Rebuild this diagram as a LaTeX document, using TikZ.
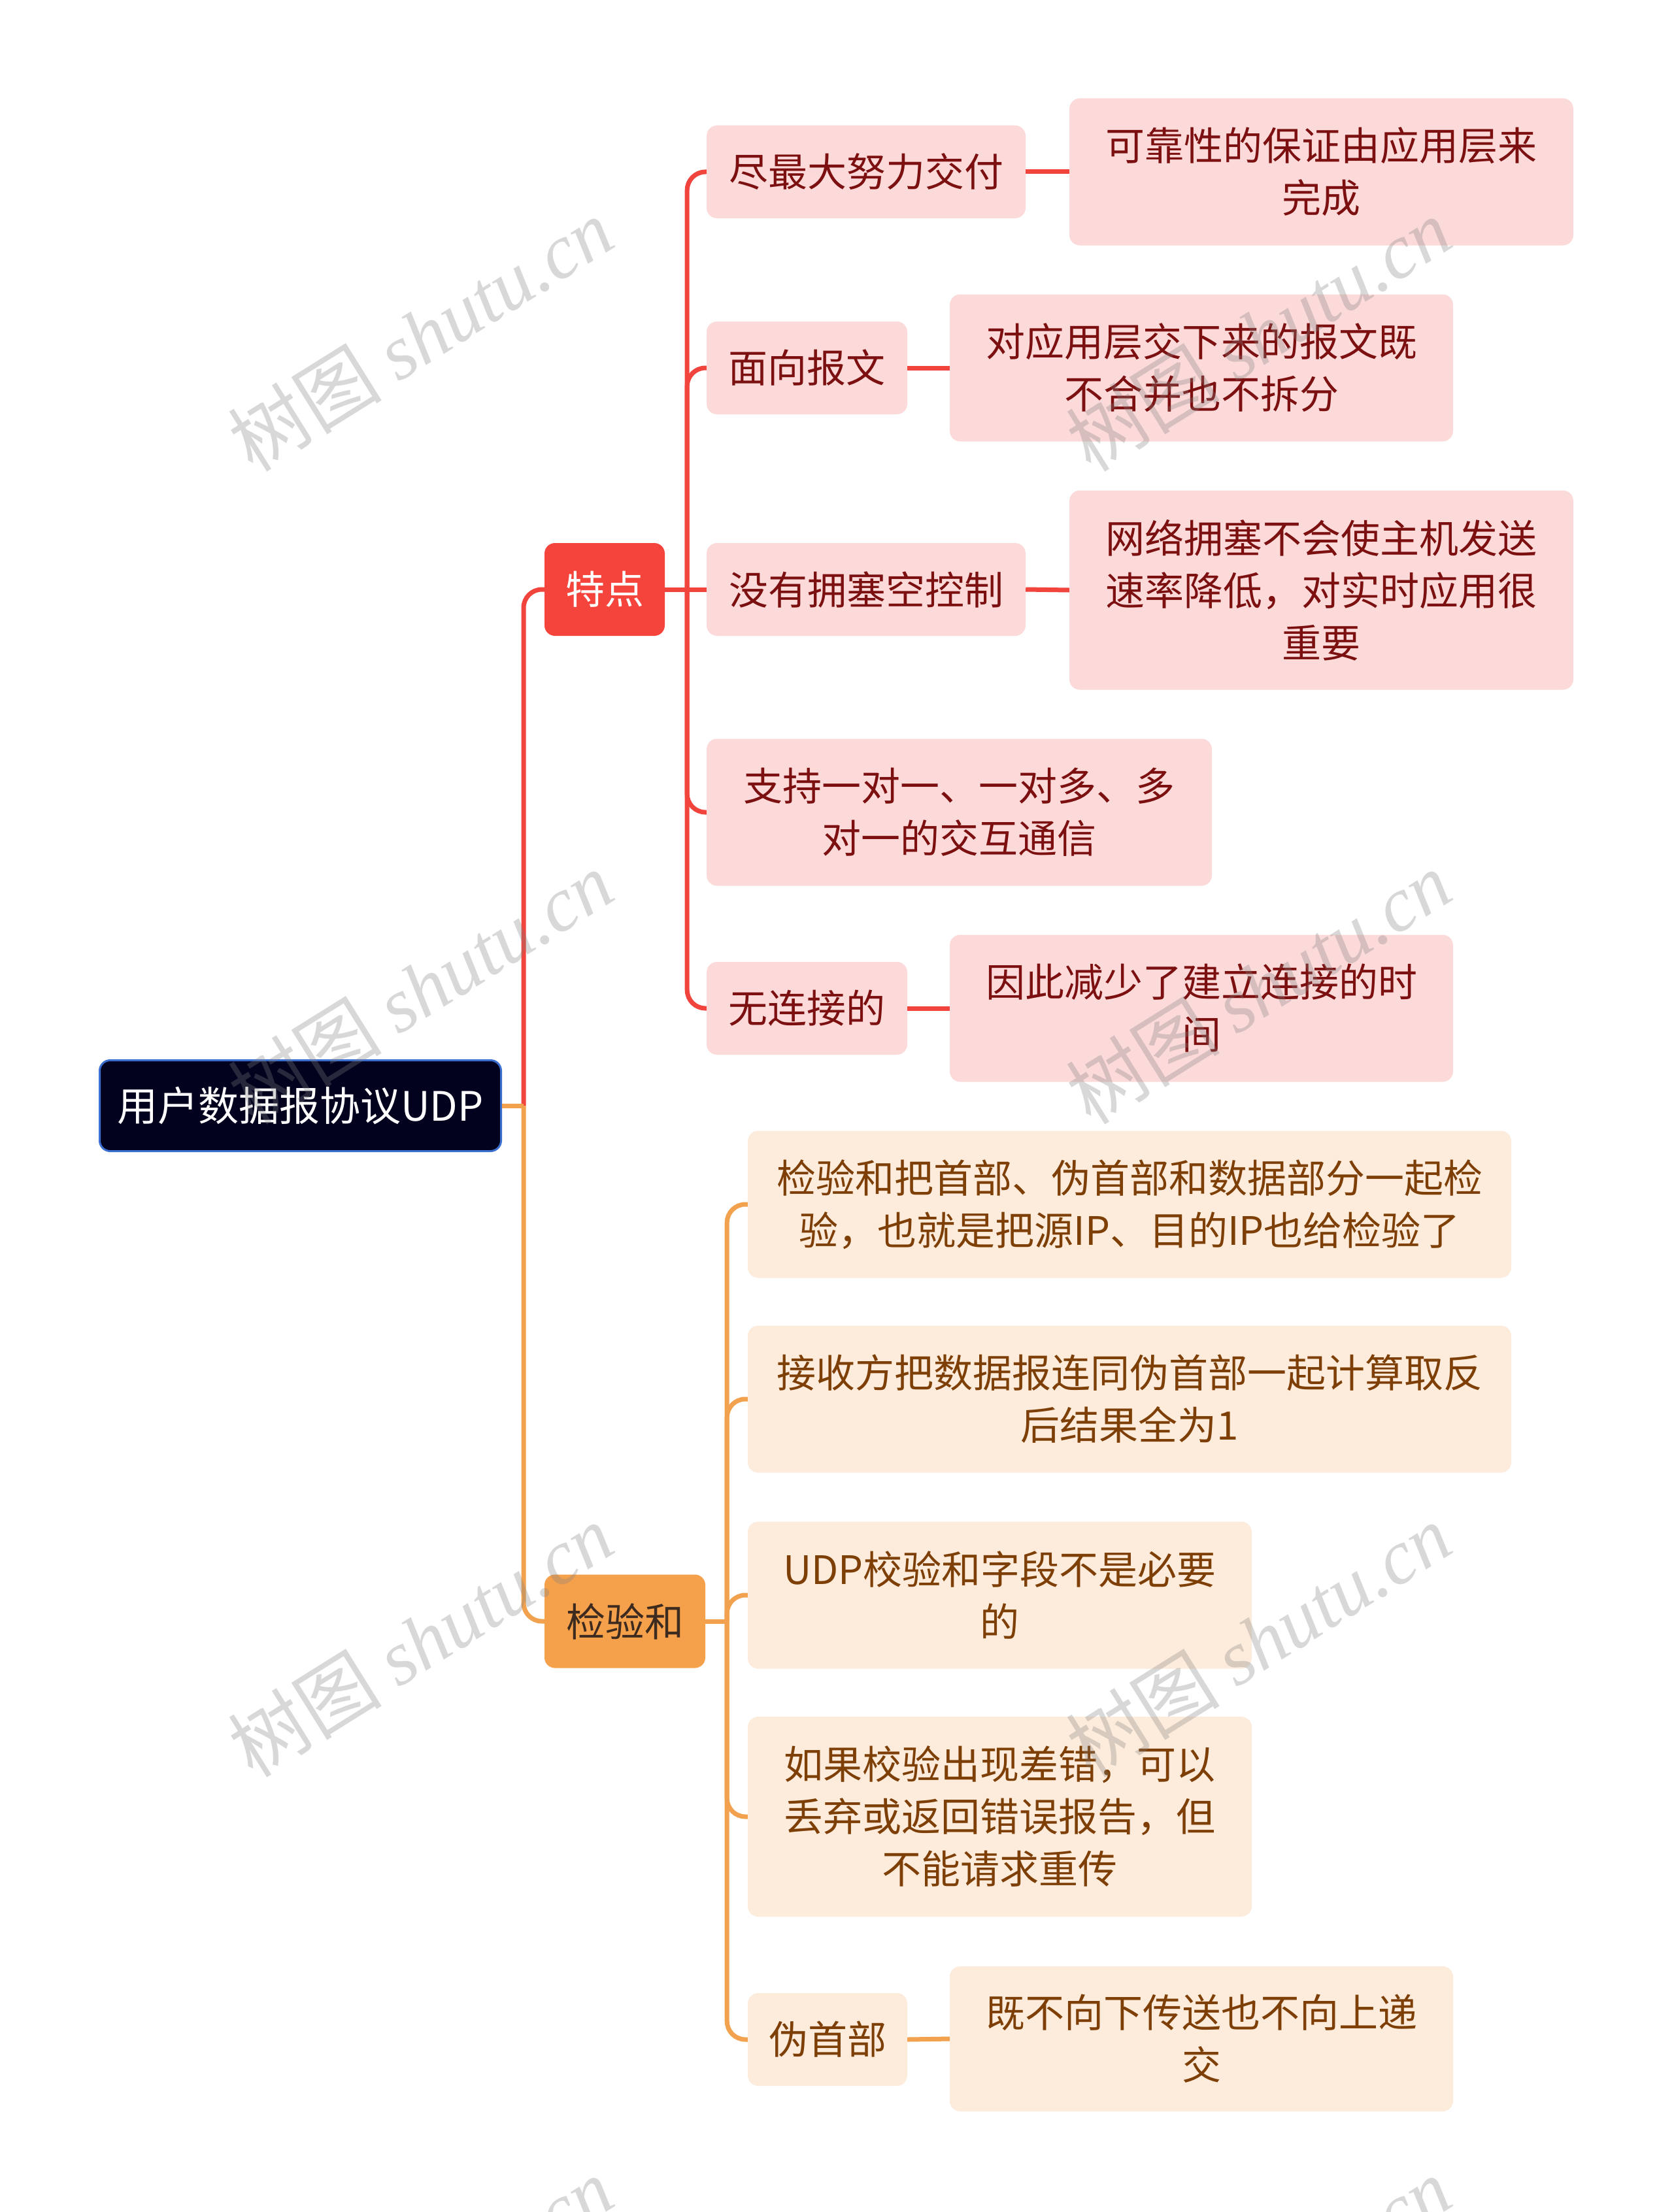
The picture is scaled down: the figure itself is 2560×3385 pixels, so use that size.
\documentclass[tikz,border=0pt]{standalone}
\usepackage{fontspec}
\setmainfont{Noto Sans CJK SC}
\newfontfamily\wmserif{Liberation Serif}
\definecolor{rootfill}{HTML}{02021F}
\definecolor{rootborder}{HTML}{3A6FD0}
\definecolor{redmain}{HTML}{F5443C}
\definecolor{orgmain}{HTML}{F5A04B}
\definecolor{pinkfill}{HTML}{FDDADA}
\definecolor{pinktext}{HTML}{7C1010}
\definecolor{peachfill}{HTML}{FDEBDB}
\definecolor{peachtext}{HTML}{7E3F06}
\definecolor{jyhtext}{HTML}{3D2B1F}
\definecolor{lred}{HTML}{F0443C}
\definecolor{lorg}{HTML}{F2A24E}
\tikzset{
  base/.style={rounded corners=16pt, inner sep=0pt, align=center, font=\fontsize{60}{80}\selectfont},
  rootbox/.style={base, fill=rootfill, draw=rootborder, line width=3pt, text=white, font=\fontsize{62}{80}\selectfont},
  redbox/.style={base, fill=redmain, text=white},
  orgbox/.style={base, fill=orgmain, text=jyhtext},
  pinkbox/.style={base, fill=pinkfill, text=pinktext},
  peachbox/.style={base, fill=peachfill, text=peachtext},
  redline/.style={draw=lred, line width=7pt, rounded corners=28pt},
  orgline/.style={draw=lorg, line width=7pt, rounded corners=28pt},
  wm/.style={text=gray, opacity=0.3, font=\fontsize{118}{124}\selectfont, inner sep=0pt, rotate=32}
}
\begin{document}
\begin{tikzpicture}[x=1pt,y=-1pt]
\useasboundingbox (0,0) rectangle (2560,3385);
\fill[white] (0,0) rectangle (2560,3385);
% nodes
\node[rootbox, minimum width=614pt, minimum height=139pt] (root) at (459.5,1692) {用户数据报协议UDP};
\node[redbox, minimum width=184pt, minimum height=142pt] (td) at (925,902) {特点};
\node[orgbox, minimum width=246pt, minimum height=143pt] (jyh) at (956,2481) {检验和};

\node[pinkbox, minimum width=488pt, minimum height=142pt] (c1) at (1325,263) {尽最大努力交付};
\node[pinkbox, minimum width=771pt, minimum height=225pt] (l1) at (2021.5,263) {可靠性的保证由应用层来\\完成};
\node[pinkbox, minimum width=307pt, minimum height=142pt] (c2) at (1234.5,563) {面向报文};
\node[pinkbox, minimum width=770pt, minimum height=225pt] (l2) at (1838,563) {对应用层交下来的报文既\\不合并也不拆分};
\node[pinkbox, minimum width=488pt, minimum height=142pt] (c3) at (1325,902) {没有拥塞空控制};
\node[pinkbox, minimum width=771pt, minimum height=305pt] (l3) at (2021.5,903) {网络拥塞不会使主机发送\\速率降低，对实时应用很\\重要};
\node[pinkbox, minimum width=773pt, minimum height=225pt] (c4) at (1467.5,1243) {支持一对一、一对多、多\\对一的交互通信};
\node[pinkbox, minimum width=307pt, minimum height=142pt] (c5) at (1234.5,1543) {无连接的};
\node[pinkbox, minimum width=770pt, minimum height=225pt] (l5) at (1838,1543) {因此减少了建立连接的时\\间};

\node[peachbox, minimum width=1168pt, minimum height=225pt] (o1) at (1728,1843) {检验和把首部、伪首部和数据部分一起检\\验，也就是把源IP、目的IP也给检验了};
\node[peachbox, minimum width=1168pt, minimum height=225pt] (o2) at (1728,2141) {接收方把数据报连同伪首部一起计算取反\\后结果全为1};
\node[peachbox, minimum width=771pt, minimum height=225pt] (o3) at (1529.5,2441) {UDP校验和字段不是必要\\的};
\node[peachbox, minimum width=771pt, minimum height=306pt] (o4) at (1529.5,2780) {如果校验出现差错，可以\\丢弃或返回错误报告，但\\不能请求重传};
\node[peachbox, minimum width=244pt, minimum height=142pt] (o5) at (1266,3121) {伪首部};
\node[peachbox, minimum width=770pt, minimum height=222pt] (ol5) at (1838,3120) {既不向下传送也不向上递\\交};

% connectors: root
\draw[redline, rounded corners=0pt] (root.east) -- ++(33,0) coordinate (rj);
\draw[redline] (rj) |- (td.west);
\draw[orgline] (rj) |- (jyh.west);
\draw[orgline, rounded corners=0pt] (root.east) -- (rj);
% 特点 children
\draw[redline, rounded corners=0pt] (td.east) -- ++(34,0) coordinate (tj);
\draw[redline] (tj) |- (c1.west);
\draw[redline] (tj) |- (c2.west);
\draw[redline] (tj) -- (c3.west);
\draw[redline] (tj) |- (c4.west);
\draw[redline] (tj) |- (c5.west);
\draw[redline] (c1.east) -- (l1.west);
\draw[redline] (c2.east) -- (l2.west);
\draw[redline] (c3.east) -- (l3.west);
\draw[redline] (c5.east) -- (l5.west);
% 检验和 children
\draw[orgline, rounded corners=0pt] (jyh.east) -- ++(33,0) coordinate (oj);
\draw[orgline] (oj) |- (o1.west);
\draw[orgline] (oj) |- (o2.west);
\draw[orgline] (oj) |- (o3.west);
\draw[orgline] (oj) |- (o4.west);
\draw[orgline] (oj) |- (o5.west);
\draw[orgline] (o5.east) -- (ol5.west);

% watermarks
\foreach \wx/\wy [count=\i] in {643/512,1925/512,643/1511,1925/1511,643/2510,1925/2510,643/3510,1925/3510}{
  \node[wm] (wm\i) at (\wx,\wy) {树图 {\wmserif\itshape shutu.cn}};
}
\end{tikzpicture}
\end{document}
